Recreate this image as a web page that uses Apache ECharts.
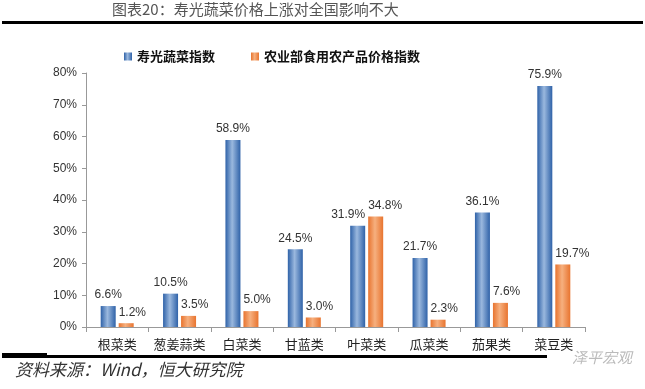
<!DOCTYPE html>
<html><head><meta charset="utf-8">
<script src="https://cdn.jsdelivr.net/npm/echarts@6/dist/echarts.min.js"></script>
<style>html,body{margin:0;padding:0;background:#fff}#c{width:645px;height:389px}</style>
</head><body><div id="c"></div>
<script>
const categories = ['根菜类','葱姜蒜类','白菜类','甘蓝类','叶菜类','瓜菜类','茄果类','菜豆类'];
const shouguang = [6.6,10.5,58.9,24.5,31.9,21.7,36.1,75.9];
const nongyebu = [1.2,3.5,5.0,3.0,34.8,2.3,7.6,19.7];
const yTicks = [0,10,20,30,40,50,60,70,80];
const seriesNames = ['寿光蔬菜指数','农业部食用农产品价格指数'];

const cjk = '"Noto Sans CJK SC", "Noto Sans", sans-serif';
const numFont = '"Liberation Sans", Arial, sans-serif';
function grad(dark, light){
  return new echarts.graphic.LinearGradient(0,0,1,0,[
    {offset:0,color:dark},{offset:0.45,color:light},{offset:1,color:dark}]);
}
const BW = 15;
const fmt = p => p.value.toFixed(1) + '%';
// blue labels centred; when the two values are close, shift the blue label left of its bar
const blueData = shouguang.map((v,i) => {
  const close = Math.abs(v - nongyebu[i]) < 5;
  return close ? {value:v, label:{align:'right', offset:[BW/2,0]}} : v;
});
const chart = echarts.init(document.getElementById('c'));
chart.setOption({
  animation:false,
  backgroundColor:'#fff',
  title:{text:'图表20：寿光蔬菜价格上涨对全国影响不大',left:107,top:-3,
    textStyle:{fontFamily:cjk,fontSize:15,fontWeight:'normal',color:'#555'}},
  legend:{top:45,left:119,itemWidth:8,itemHeight:8,itemGap:36,icon:'rect',
    textStyle:{fontFamily:cjk,fontSize:13,fontWeight:'bold',color:'#111'},
    data:seriesNames},
  grid:{left:86,right:60,top:73,bottom:62},
  xAxis:{type:'category',data:categories,
    axisLine:{lineStyle:{color:'#999'}},
    axisTick:{show:true,length:5,lineStyle:{color:'#999'}},
    axisLabel:{interval:0,fontFamily:cjk,fontSize:13,color:'#222',margin:11}},
  yAxis:{type:'value',min:0,max:80,interval:10,
    axisLine:{show:true,lineStyle:{color:'#999'}},
    axisTick:{show:true,length:4,lineStyle:{color:'#999'}},
    splitLine:{show:false},
    axisLabel:{fontFamily:numFont,fontSize:12,color:'#333',margin:9,
      formatter:v=>yTicks.includes(v)?v+'%':''}},
  series:[
    {name:seriesNames[0],type:'bar',data:blueData,barWidth:BW,barGap:'20%',
     itemStyle:{color:grad('#2f62a8','#9ab8de')},
     label:{show:true,position:'top',distance:5,fontFamily:numFont,fontSize:12,color:'#333',formatter:fmt}},
    {name:seriesNames[1],type:'bar',data:nongyebu,barWidth:BW,
     itemStyle:{color:grad('#e8742f','#f6b07f')},
     label:{show:true,position:'top',distance:5,align:'left',offset:[-BW/2,0],
       fontFamily:numFont,fontSize:12,color:'#333',formatter:fmt}}
  ],
  graphic:[
    {type:'rect',shape:{x:2,y:21,width:641,height:3},style:{fill:'#000'}},
    {type:'rect',shape:{x:2,y:353,width:45,height:2},style:{fill:'#000'}},
    {type:'rect',shape:{x:2,y:355,width:545,height:3},style:{fill:'#000'}},
    {type:'text',left:15,top:361,style:{text:'资料来源：Wind，恒大研究院',
      font:'italic 17px "Noto Sans CJK SC", sans-serif',fill:'#333'}},
    {type:'text',left:572,top:350,style:{text:'泽平宏观',
      font:'italic 15px "Noto Sans CJK SC", sans-serif',fill:'#bbb'}}
  ]
});
</script></body></html>
